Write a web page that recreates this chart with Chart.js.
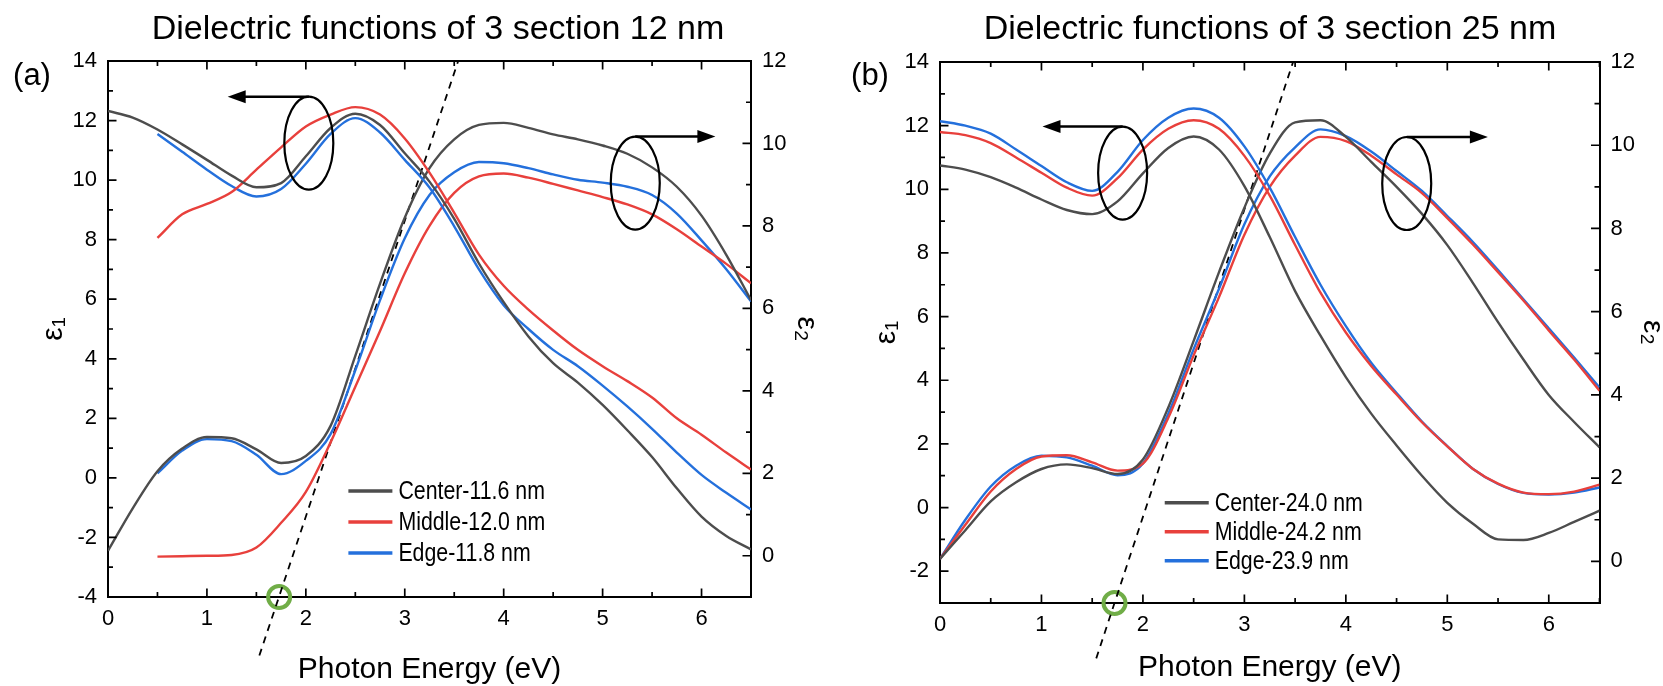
<!DOCTYPE html>
<html>
<head>
<meta charset="utf-8">
<script src="https://cdn.jsdelivr.net/npm/chart.js@4.4.1/dist/chart.umd.min.js"></script>
<style>
  html, body { margin: 0; padding: 0; background: #fff; }
  #wrap { position: relative; width: 1663px; height: 686px; overflow: hidden; }
  #ca { position: absolute; left: 0; top: 0; }
  #cb { position: absolute; left: 830px; top: 0; }
</style>
</head>
<body>
<div id="wrap">
  <canvas id="ca" width="830" height="686"></canvas>
  <canvas id="cb" width="833" height="686"></canvas>
</div>
<script>
/* Dielectric functions, 3 sections, 12 nm (a) and 25 nm (b) */

// photon energy grid (eV)
const energy = [0, 0.25, 0.5, 0.75, 1, 1.25, 1.5, 1.75, 2, 2.25, 2.5, 2.75, 3, 3.25, 3.5, 3.75, 4, 4.25, 4.5, 4.75, 5, 5.25, 5.5, 5.75, 6, 6.25, 6.5];

// (a) 12 nm
const a_eps1_center = [12.32, 12.1, 11.7, 11.2, 10.68, 10.15, 9.76, 9.9, 10.8, 11.75, 12.23, 11.85, 10.9, 9.95, 8.7, 7.2, 5.9, 4.75, 3.85, 3.2, 2.45, 1.6, 0.7, -0.35, -1.3, -1.95, -2.4];
const a_eps1_middle = [null, null, 8.06, 8.85, 9.2, 9.6, 10.35, 11.1, 11.8, 12.2, 12.45, 12.2, 11.4, 10.25, 8.9, 7.5, 6.45, 5.65, 4.95, 4.3, 3.75, 3.25, 2.7, 2.0, 1.45, 0.85, 0.28];
const a_eps1_edge   = [null, null, 11.55, 10.95, 10.35, 9.8, 9.45, 9.7, 10.55, 11.55, 12.08, 11.6, 10.68, 9.75, 8.45, 7.0, 5.8, 5.0, 4.3, 3.75, 3.1, 2.4, 1.65, 0.85, 0.1, -0.5, -1.06];
const a_eps2_center = [0.12, 1.15, 2.05, 2.6, 2.88, 2.85, 2.58, 2.25, 2.42, 3.15, 4.85, 6.6, 8.2, 9.4, 10.1, 10.45, 10.5, 10.38, 10.22, 10.1, 9.95, 9.75, 9.42, 8.95, 8.25, 7.3, 6.2];
const a_eps2_middle = [null, null, -0.02, -0.01, 0.0, 0.02, 0.2, 0.8, 1.55, 2.75, 4.1, 5.45, 6.85, 8.0, 8.8, 9.2, 9.27, 9.17, 9.02, 8.86, 8.7, 8.52, 8.28, 7.92, 7.5, 7.08, 6.61];
const a_eps2_edge   = [null, null, 2.0, 2.55, 2.83, 2.78, 2.45, 1.98, 2.3, 2.95, 4.5, 6.2, 7.7, 8.75, 9.3, 9.55, 9.52, 9.4, 9.25, 9.12, 9.05, 8.95, 8.75, 8.3, 7.65, 6.95, 6.17];
const a_tangent_x = [1.53, 3.54];
const a_tangent_y = [-2.42, 12];
const a_onset = [1.73, -1];
const a_labels = ['Center-11.6 nm', 'Middle-12.0 nm', 'Edge-11.8 nm'];

// (b) 25 nm
const b_eps1_center = [10.75, 10.62, 10.38, 10.05, 9.68, 9.35, 9.22, 9.62, 10.5, 11.3, 11.66, 11.25, 10.1, 8.5, 6.8, 5.4, 4.1, 2.95, 1.95, 1.0, 0.15, -0.5, -1.0, -1.02, -0.8, -0.45, -0.1];
const b_eps1_middle = [11.8, 11.7, 11.45, 11.0, 10.52, 10.05, 9.8, 10.35, 11.25, 11.9, 12.17, 11.9, 11.05, 9.8, 8.25, 6.75, 5.5, 4.45, 3.55, 2.68, 1.92, 1.22, 0.75, 0.47, 0.42, 0.5, 0.72];
const b_eps1_edge   = [12.14, 12.0, 11.75, 11.25, 10.73, 10.22, 9.95, 10.55, 11.55, 12.25, 12.54, 12.25, 11.35, 10.05, 8.5, 7.0, 5.7, 4.55, 3.6, 2.7, 1.93, 1.22, 0.74, 0.46, 0.41, 0.47, 0.63];
const b_eps2_center = [0.06, 0.75, 1.44, 1.9, 2.22, 2.33, 2.24, 2.1, 2.45, 3.7, 5.3, 6.95, 8.5, 9.8, 10.55, 10.6, 10.2, 9.6, 9.0, 8.35, 7.6, 6.7, 5.75, 4.85, 4.0, 3.35, 2.74];
const b_eps2_middle = [0.06, 0.88, 1.68, 2.22, 2.52, 2.55, 2.38, 2.18, 2.35, 3.45, 4.95, 6.35, 7.85, 9.0, 9.75, 10.2, 10.1, 9.75, 9.3, 8.85, 8.25, 7.62, 6.95, 6.27, 5.55, 4.85, 4.1];
const b_eps2_edge   = [0.06, 1.0, 1.8, 2.3, 2.54, 2.5, 2.3, 2.07, 2.35, 3.55, 5.1, 6.55, 8.1, 9.25, 9.95, 10.38, 10.22, 9.85, 9.38, 8.9, 8.3, 7.68, 7.0, 6.3, 5.6, 4.9, 4.18];
const b_tangent_x = [1.54, 3.48];
const b_tangent_y = [-2.33, 12];
const b_onset = [1.72, -1];
const b_labels = ['Center-24.0 nm', 'Middle-24.2 nm', 'Edge-23.9 nm'];

const FONT = "'Liberation Sans', Arial, sans-serif";
const GRAY = '#4d4d4d', RED = '#e8403c', BLUE = '#2470dc', GREEN = '#70ad47';

const pts = ys => energy.map((x, i) => ({ x, y: ys[i] })).filter(p => p.y !== null);

function curve(ys, color, axis, legend) {
  return { data: pts(ys), yAxisID: axis, borderColor: color, borderWidth: 2.4, pointRadius: 0,
           cubicInterpolationMode: 'monotone', fill: false, legend };
}

// inward ticks, ellipse + arrow call-outs, legend, title and panel letter
const decor = {
  id: 'decor',
  afterDraw(chart, _a, o) {
    const { ctx, chartArea: ca, scales } = chart;
    const { x, y, y2 } = scales;
    ctx.save();
    ctx.strokeStyle = '#000';
    ctx.lineWidth = 1.7;
    const mark = (scale, minor, major, fn) => {
      for (let k = Math.ceil(scale.min / minor - 1e-9); k * minor <= scale.max + 1e-9; k++) {
        const v = k * minor;
        const isMajor = Math.abs(v / major - Math.round(v / major)) < 1e-6;
        fn(scale.getPixelForValue(v), isMajor ? 8.5 : 5);
      }
    };
    ctx.beginPath();
    mark(x, 0.5, 1, (p, len) => {
      ctx.moveTo(p, ca.bottom); ctx.lineTo(p, ca.bottom - len);
      ctx.moveTo(p, ca.top); ctx.lineTo(p, ca.top + len);
    });
    mark(y, 1, 2, (p, len) => { ctx.moveTo(ca.left, p); ctx.lineTo(ca.left + len, p); });
    mark(y2, 1, 2, (p, len) => { ctx.moveTo(ca.right, p); ctx.lineTo(ca.right - len, p); });
    ctx.stroke();

    // call-outs
    ctx.fillStyle = '#000';
    o.callouts.forEach(m => {
      const cx = x.getPixelForValue(m.x), cy = scales[m.axis].getPixelForValue(m.y);
      ctx.lineWidth = 2.2;
      ctx.beginPath(); ctx.ellipse(cx, cy, 24.5, 46.5, 0, 0, Math.PI * 2); ctx.stroke();
      const tip = x.getPixelForValue(m.tip), ty = cy - 46.5, dir = Math.sign(tip - cx);
      ctx.lineWidth = 2.6;
      ctx.beginPath(); ctx.moveTo(cx, ty); ctx.lineTo(tip - dir * 14, ty); ctx.stroke();
      ctx.beginPath(); ctx.moveTo(tip, ty); ctx.lineTo(tip - dir * 18, ty - 6.5); ctx.lineTo(tip - dir * 18, ty + 6.5);
      ctx.closePath(); ctx.fill();
    });

    // legend (condensed text, like the original narrow face)
    const items = chart.data.datasets.filter(d => d.legend);
    const lx = x.getPixelForValue(o.legendAt[0]), ly = y.getPixelForValue(o.legendAt[1]);
    ctx.font = '26px ' + FONT;
    ctx.textBaseline = 'middle';
    ctx.textAlign = 'left';
    items.forEach((d, i) => {
      const yy = ly + i * o.legendGap;
      ctx.strokeStyle = d.borderColor; ctx.lineWidth = 3.5;
      ctx.beginPath(); ctx.moveTo(lx, yy); ctx.lineTo(lx + 44, yy); ctx.stroke();
      ctx.save();
      ctx.translate(lx + 50, yy + 1);
      ctx.scale(0.82, 1);
      ctx.fillText(d.legend, 0, 0);
      ctx.restore();
    });

    // title and panel letter
    ctx.font = '34px ' + FONT;
    ctx.textAlign = 'center';
    ctx.fillText(o.title, o.titleX, 30);
    ctx.font = '31px ' + FONT;
    ctx.fillText(o.letter, o.letterX, 76);
    ctx.restore();
  }
};

function renderPanel(id, s) {
  const tickFont = { family: FONT, size: 22 };
  const border = { color: '#000', width: 2 };
  const grid = { display: false, drawTicks: false };
  const datasets = [
    curve(s.e1[0], GRAY, 'y', s.labels[0]),
    curve(s.e1[1], RED, 'y', s.labels[1]),
    curve(s.e1[2], BLUE, 'y', s.labels[2]),
    curve(s.e2[0], GRAY, 'y2'),
    curve(s.e2[1], RED, 'y2'),
    curve(s.e2[2], BLUE, 'y2'),
    { data: s.tx.map((x, i) => ({ x, y: s.ty[i] })), yAxisID: 'y2', borderColor: '#000', borderWidth: 1.8,
      borderDash: [7, 6], pointRadius: 0, fill: false, clip: false },
    { data: [{ x: s.onset[0], y: s.onset[1] }], yAxisID: 'y2', showLine: false, pointRadius: 11,
      pointBorderWidth: 4, pointBorderColor: GREEN, pointBackgroundColor: 'rgba(0,0,0,0)', clip: false }
  ];

  return new Chart(document.getElementById(id), {
    type: 'line',
    data: { datasets },
    plugins: [decor],
    options: {
      responsive: false, animation: false,
      layout: { padding: { top: s.top, left: 0, right: 0, bottom: 0 } },
      plugins: {
        legend: { display: false }, tooltip: { enabled: false },
        decor: { title: s.title, titleX: s.titleX, letter: s.letter, letterX: s.letterX,
                 legendAt: s.legendAt, legendGap: s.legendGap, callouts: s.callouts }
      },
      scales: {
        x: { type: 'linear', position: 'bottom', min: 0, max: 6.5, grid, border,
             ticks: { stepSize: 1, includeBounds: false, padding: 9, color: '#000', font: tickFont, maxRotation: 0 },
             title: { display: true, text: 'Photon Energy (eV)', color: '#000', font: { family: FONT, size: 30 },
                      padding: { top: 0, bottom: s.xTitlePad } },
             afterFit: sc => { sc.height = s.xh; } },
        x2: { axis: 'x', type: 'linear', position: 'top', min: 0, max: 6.5, grid, border,
              ticks: { display: false }, afterFit: sc => { sc.height = 0; } },
        y: { type: 'linear', position: 'left', min: s.yMin, max: 14, grid, border,
             ticks: { stepSize: 2, includeBounds: false, padding: 11, color: '#000', font: tickFont },
             title: { display: true, text: 'ε₁', color: '#000', font: { family: FONT, size: 30, lineHeight: 0.7 },
                      padding: { top: s.y1Pad, bottom: 0 } },
             afterFit: sc => { sc.width = s.yw; } },
        y2: { type: 'linear', position: 'right', min: -1, max: 12, grid, border,
              ticks: { stepSize: 2, includeBounds: false, padding: 11, color: '#000', font: tickFont },
              title: { display: true, text: 'ε₂', color: '#000', font: { family: FONT, size: 30, lineHeight: 0.7 },
                       padding: { top: s.y2Pad, bottom: 0 } },
              afterFit: sc => { sc.width = s.y2w; } }
      }
    }
  });
}

renderPanel('ca', {
  e1: [a_eps1_center, a_eps1_middle, a_eps1_edge], e2: [a_eps2_center, a_eps2_middle, a_eps2_edge],
  tx: a_tangent_x, ty: a_tangent_y, onset: a_onset, labels: a_labels,
  title: 'Dielectric functions of 3 section 12 nm', titleX: 438, letter: '(a)', letterX: 32,
  top: 61, yw: 108, y2w: 79, xh: 89, xTitlePad: -2, y1Pad: 43.5, y2Pad: 13.5, yMin: -4,
  legendAt: [2.43, -0.44], legendGap: 31,
  callouts: [{ axis: 'y', x: 2.03, y: 11.24, tip: 1.21 }, { axis: 'y2', x: 5.33, y: 9.04, tip: 6.14 }]
});

renderPanel('cb', {
  e1: [b_eps1_center, b_eps1_middle, b_eps1_edge], e2: [b_eps2_center, b_eps2_middle, b_eps2_edge],
  tx: b_tangent_x, ty: b_tangent_y, onset: b_onset, labels: b_labels,
  title: 'Dielectric functions of 3 section 25 nm', titleX: 440, letter: '(b)', letterX: 40,
  top: 62, yw: 110, y2w: 63.5, xh: 83, xTitlePad: 0, y1Pad: 46.5, y2Pad: 0, yMin: -3,
  legendAt: [2.215, 0.15], legendGap: 29,
  callouts: [{ axis: 'y', x: 1.8, y: 10.51, tip: 1.01 }, { axis: 'y2', x: 4.6, y: 9.08, tip: 5.4 }]
});
</script>
</body>
</html>
